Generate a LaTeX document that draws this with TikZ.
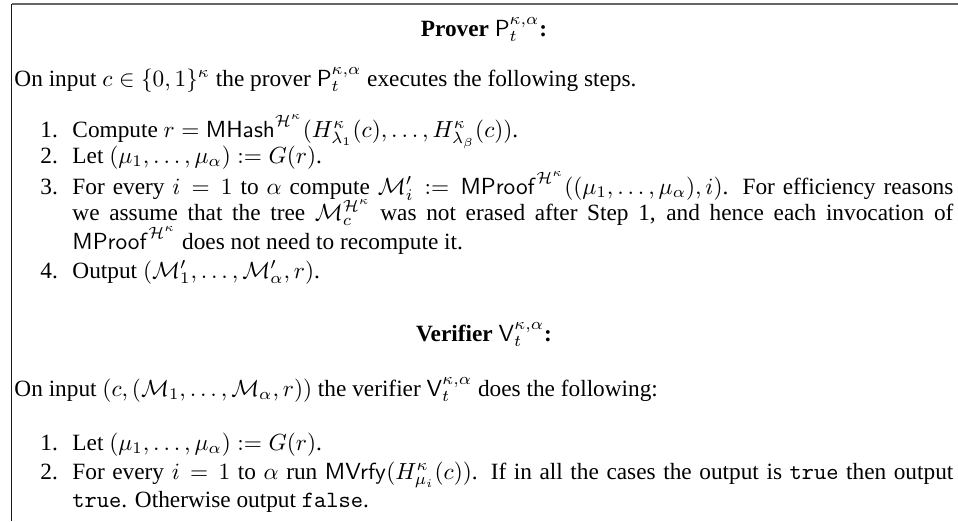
\documentclass[tikz,border=0pt]{standalone}
\usepackage{amsmath,amssymb}
\usepackage[no-math]{fontspec}
\setmainfont{Liberation Serif}
\newcommand{\kalg}[1]{\mathsf{#1}}
\newcommand{\Hk}{\mathcal{H}^{\kappa}}
\newlength{\fullw}
\setlength{\fullw}{378.1pt}
\begin{document}
\begin{tikzpicture}[x=0.4292pt,y=-0.4292pt,
  txt/.style={inner sep=0pt,anchor=base west,font=\fontsize{10}{12}\selectfont},
  heading/.style={inner sep=0pt,anchor=base,font=\fontsize{10}{12}\selectfont},
  frameline/.style={line width=0.8pt}]
\useasboundingbox (0,0) rectangle (958,521);
% frame: top rule and left rule (the box continues beyond the visible part)
\draw[frameline,black!60] (11.5,3.8) -- (958,3.8);
\draw[frameline,black!90] (11.5,3.8) -- (11.5,521);

% ---- prover ----
\node[heading] (ptitle) at (484,36) {\textbf{Prover} $\kalg{P}_t^{\kappa,\alpha}$\textbf{:}};
\node[txt] (pin) at (14,86) {On input $c\in\{0,1\}^\kappa$ the prover $\kalg{P}_t^{\kappa,\alpha}$ executes the following steps.};

\node[txt] (p1n) at (40,137) {1.};
\node[txt] (p1) at (72,137) {Compute $r=\kalg{MHash}^{\Hk}(H^\kappa_{\lambda_1}(c),\ldots,H^\kappa_{\lambda_\beta}(c))$.};
\node[txt] (p2n) at (40,163) {2.};
\node[txt] (p2) at (72,163) {Let $(\mu_1,\ldots,\mu_\alpha):=G(r)$.};
\node[txt] (p3n) at (40,194) {3.};
\node[txt] (p3a) at (72,194) {\makebox[\fullw][s]{For every $i=1$ to $\alpha$ compute $\mathcal{M}'_i:=\kalg{MProof}^{\Hk}((\mu_1,\ldots,\mu_\alpha),i)$. For efficiency reasons}};
\node[txt] (p3b) at (72,220) {\makebox[\fullw][s]{we assume that the tree $\mathcal{M}_c^{\Hk}$ was not erased after Step 1, and hence each invocation of}};
\node[txt] (p3c) at (72,249) {$\kalg{MProof}^{\Hk}$ does not need to recompute it.};
\node[txt] (p4n) at (40,278) {4.};
\node[txt] (p4) at (72,278) {Output $(\mathcal{M}'_1,\ldots,\mathcal{M}'_\alpha,r)$.};

% ---- verifier ----
\node[heading] (vtitle) at (484,341) {\textbf{Verifier} $\kalg{V}_t^{\kappa,\alpha}$\textbf{:}};
\node[txt] (vin) at (14,396) {On input $(c,(\mathcal{M}_1,\ldots,\mathcal{M}_\alpha,r))$ the verifier $\kalg{V}_t^{\kappa,\alpha}$ does the following:};

\node[txt] (v1n) at (40,450) {1.};
\node[txt] (v1) at (72,450) {Let $(\mu_1,\ldots,\mu_\alpha):=G(r)$.};
\node[txt] (v2n) at (40,479) {2.};
\node[txt] (v2a) at (72,479) {\makebox[\fullw][s]{For every $i=1$ to $\alpha$ run $\kalg{MVrfy}(H^\kappa_{\mu_i}(c))$. If in all the cases the output is \texttt{true} then output}};
\node[txt] (v2b) at (72,507) {\texttt{true}. Otherwise output \texttt{false}.};
\end{tikzpicture}
\end{document}
